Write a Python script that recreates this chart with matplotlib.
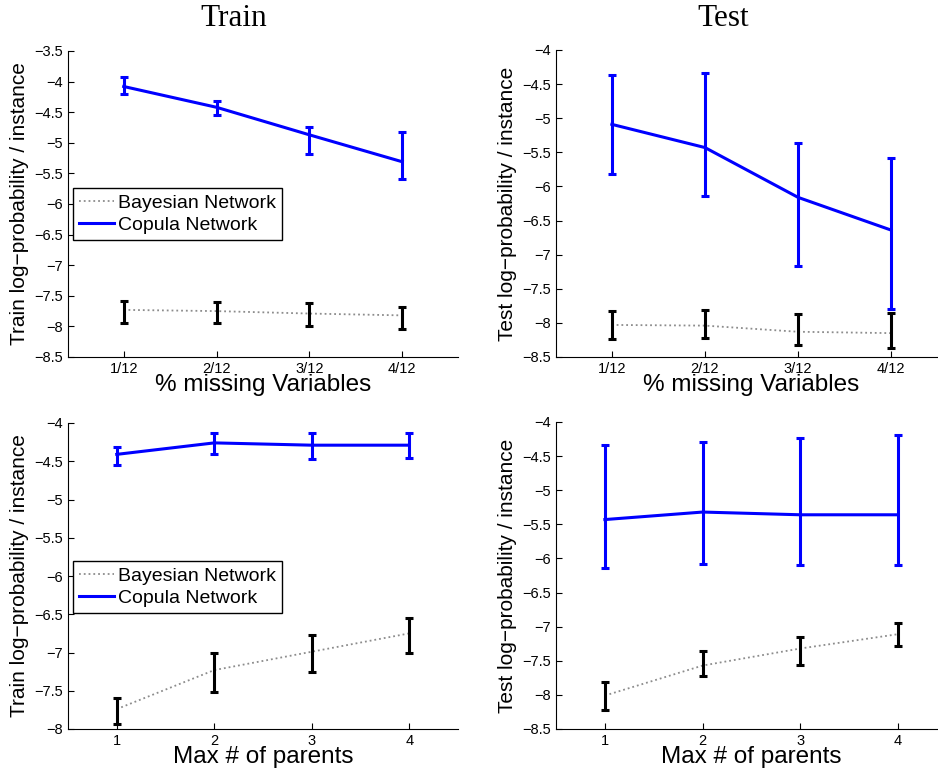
import numpy as np
import matplotlib
matplotlib.use('Agg')
import matplotlib.pyplot as plt

plt.rcParams['font.family'] = ['Liberation Sans', 'DejaVu Sans']

# === DATA ===
x = [1, 2, 3, 4]
missing_labels = ['1/12', '2/12', '3/12', '4/12']
parents_labels = ['1', '2', '3', '4']

# top-left: train vs % missing
tr_miss_cop = [-4.08, -4.42, -4.87, -5.31]
tr_miss_cop_lo = [-4.20, -4.55, -5.18, -5.59]
tr_miss_cop_hi = [-3.93, -4.31, -4.74, -4.83]
tr_miss_bn = [-7.73, -7.75, -7.79, -7.82]
tr_miss_bn_lo = [-7.94, -7.94, -8.00, -8.04]
tr_miss_bn_hi = [-7.58, -7.60, -7.62, -7.68]

# top-right: test vs % missing
te_miss_cop = [-5.09, -5.43, -6.16, -6.64]
te_miss_cop_lo = [-5.82, -6.14, -7.16, -7.80]
te_miss_cop_hi = [-4.37, -4.33, -5.37, -5.59]
te_miss_bn = [-8.03, -8.04, -8.13, -8.15]
te_miss_bn_lo = [-8.24, -8.22, -8.33, -8.37]
te_miss_bn_hi = [-7.82, -7.81, -7.87, -7.86]

# bottom-left: train vs max parents
tr_par_cop = [-4.41, -4.26, -4.29, -4.29]
tr_par_cop_lo = [-4.55, -4.41, -4.47, -4.46]
tr_par_cop_hi = [-4.32, -4.13, -4.13, -4.13]
tr_par_bn = [-7.74, -7.23, -6.99, -6.75]
tr_par_bn_lo = [-7.93, -7.51, -7.26, -7.01]
tr_par_bn_hi = [-7.59, -7.00, -6.77, -6.55]

# bottom-right: test vs max parents
te_par_cop = [-5.43, -5.32, -5.36, -5.36]
te_par_cop_lo = [-6.14, -6.08, -6.10, -6.10]
te_par_cop_hi = [-4.33, -4.30, -4.23, -4.19]
te_par_bn = [-8.01, -7.57, -7.32, -7.11]
te_par_bn_lo = [-8.22, -7.73, -7.56, -7.29]
te_par_bn_hi = [-7.81, -7.35, -7.15, -6.94]

W, H = 938, 774
fig = plt.figure(figsize=(W / 100, H / 100), dpi=100)


def px_axes(left, top, right, bottom):
    return fig.add_axes([left / W, 1 - bottom / H, (right - left) / W, (bottom - top) / H])


def draw(ax, y_cop, lo_cop, hi_cop, y_bn, lo_bn, hi_bn, xlim, ylim, yticks,
         xticklabels, xlabel, ylabel, legend_top=None):
    y_cop, lo_cop, hi_cop = map(np.array, (y_cop, lo_cop, hi_cop))
    y_bn, lo_bn, hi_bn = map(np.array, (y_bn, lo_bn, hi_bn))
    # Bayesian network: dotted grey line, black error bars
    ax.plot(x, y_bn, color='0.55', ls=':', lw=1.3, label='Bayesian Network')
    ax.errorbar(x, y_bn, yerr=[y_bn - lo_bn, hi_bn - y_bn], fmt='none',
                ecolor='black', elinewidth=2.2, capsize=3, capthick=2.2)
    # Copula network: solid blue
    ax.plot(x, y_cop, color='#0000ff', lw=2.2, label='Copula Network')
    ax.errorbar(x, y_cop, yerr=[y_cop - lo_cop, hi_cop - y_cop], fmt='none',
                ecolor='#0000ff', elinewidth=2.2, capsize=3, capthick=2.2)

    ax.set_xlim(*xlim)
    ax.set_ylim(*ylim)
    ax.set_yticks(yticks)
    ax.set_yticklabels([('%g' % t).replace('-', '\u2212') for t in yticks])
    ax.set_xticks(x)
    ax.set_xticklabels(xticklabels)
    ax.tick_params(direction='in', length=4, labelsize=10.5, width=0.8)
    ax.spines['top'].set_visible(False)
    ax.spines['right'].set_visible(False)
    ax.set_xlabel(xlabel, fontsize=17.5, labelpad=-1)
    ax.set_ylabel(ylabel, fontsize=15, labelpad=4)
    if legend_top is not None:
        leg = ax.legend(loc='upper left', bbox_to_anchor=(0.013, legend_top),
                        fontsize=14, handlelength=1.8, handletextpad=0.2,
                        borderpad=0.3, labelspacing=0.25, borderaxespad=0,
                        fancybox=False, framealpha=1)
        leg.get_frame().set_edgecolor('black')
        leg.get_frame().set_linewidth(1.0)


ax1 = px_axes(68, 51, 458, 357)
draw(ax1, tr_miss_cop, tr_miss_cop_lo, tr_miss_cop_hi,
     tr_miss_bn, tr_miss_bn_lo, tr_miss_bn_hi,
     (0.4, 4.6), (-8.5, -3.5), np.arange(-8.5, -3.49, 0.5),
     missing_labels, '% missing Variables',
     'Train log\u2212probability / instance', legend_top=0.552)

ax2 = px_axes(556, 50, 947, 357)
draw(ax2, te_miss_cop, te_miss_cop_lo, te_miss_cop_hi,
     te_miss_bn, te_miss_bn_lo, te_miss_bn_hi,
     (0.4, 4.6), (-8.5, -4.0), np.arange(-8.5, -3.99, 0.5),
     missing_labels, '% missing Variables',
     'Test log\u2212probability / instance')

ax3 = px_axes(68, 423, 458, 729)
draw(ax3, tr_par_cop, tr_par_cop_lo, tr_par_cop_hi,
     tr_par_bn, tr_par_bn_lo, tr_par_bn_hi,
     (0.5, 4.5), (-8.0, -4.0), np.arange(-8.0, -3.99, 0.5),
     parents_labels, 'Max # of parents',
     'Train log\u2212probability / instance', legend_top=0.548)

ax4 = px_axes(556, 422, 947, 729)
draw(ax4, te_par_cop, te_par_cop_lo, te_par_cop_hi,
     te_par_bn, te_par_bn_lo, te_par_bn_hi,
     (0.5, 4.5), (-8.5, -4.0), np.arange(-8.5, -3.99, 0.5),
     parents_labels, 'Max # of parents',
     'Test log\u2212probability / instance')

fig.text(234 / W, 1 - 19 / H, 'Train', ha='center', va='center',
         fontsize=22.5, family='Liberation Serif')
fig.text(723 / W, 1 - 19 / H, 'Test', ha='center', va='center',
         fontsize=22.5, family='Liberation Serif')

fig.savefig('out.png', dpi=100)
